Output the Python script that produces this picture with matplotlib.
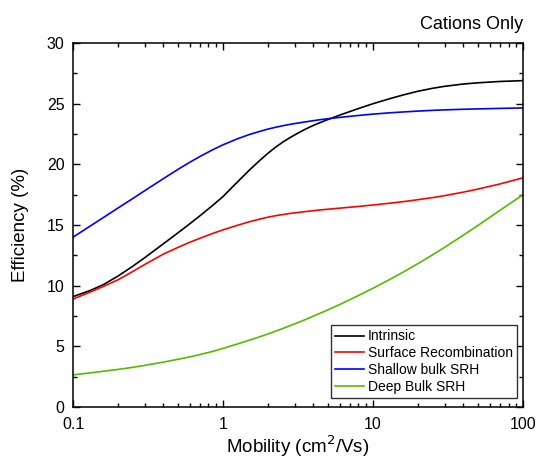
import numpy as np
import matplotlib.pyplot as plt
from matplotlib.ticker import MultipleLocator, LogLocator, FixedLocator, FixedFormatter

plt.rcParams['font.family'] = ['Liberation Sans', 'DejaVu Sans']

# mobility values (cm^2/Vs)
mobility = [0.1, 0.13, 0.16, 0.2, 0.25, 0.3, 0.4, 0.5, 0.6, 0.7, 0.85, 1, 1.25, 1.5, 1.75, 2,
            2.25, 2.5, 2.75, 3, 3.5, 4, 4.5, 5, 6, 8, 10, 13, 16, 20, 25, 30, 40, 50, 70, 100]

intrinsic = [9.1, 9.6, 10.1, 10.8, 11.6, 12.3, 13.45, 14.35, 15.1, 15.75, 16.6, 17.35, 18.56, 19.53,
             20.3, 20.93, 21.43, 21.83, 22.15, 22.42, 22.87, 23.21, 23.47, 23.69, 24.06, 24.6,
             25.0, 25.42, 25.73, 26.03, 26.27, 26.43, 26.62, 26.72, 26.83, 26.9]
surface = [8.9, 9.47, 9.95, 10.49, 11.17, 11.74, 12.6, 13.15, 13.58, 13.9, 14.3, 14.6, 14.98, 15.27,
           15.48, 15.65, 15.77, 15.86, 15.94, 16.0, 16.1, 16.18, 16.25, 16.3, 16.39, 16.53,
           16.65, 16.8, 16.93, 17.09, 17.26, 17.42, 17.71, 17.96, 18.38, 18.89]
shallow = [14.0, 14.91, 15.63, 16.41, 17.18, 17.82, 18.82, 19.58, 20.17, 20.64, 21.19, 21.61, 22.11,
           22.46, 22.71, 22.91, 23.06, 23.18, 23.28, 23.36, 23.49, 23.6, 23.69, 23.76, 23.87,
           24.03, 24.14, 24.25, 24.32, 24.39, 24.45, 24.49, 24.54, 24.57, 24.61, 24.65]
deep = [2.65, 2.81, 2.95, 3.1, 3.27, 3.43, 3.7, 3.93, 4.13, 4.32, 4.58, 4.83, 5.2, 5.51, 5.78, 6.03,
        6.26, 6.47, 6.67, 6.85, 7.18, 7.49, 7.76, 8.01, 8.45, 9.19, 9.79, 10.53, 11.14, 11.83,
        12.55, 13.16, 14.16, 14.96, 16.2, 17.5]

labels = ["Intrinsic", "Surface Recombination", "Shallow bulk SRH", "Deep Bulk SRH"]
colors = ["black", "#ff0000", "#0000ff", "#55bb00"]

x_ticks = [0.1, 1, 10, 100]
x_tick_labels = ["0.1", "1", "10", "100"]

fig = plt.figure(figsize=(5.37, 4.65), dpi=100)
ax = fig.add_axes([0.136, 0.1247, 0.838, 0.7828])

for series, lab, col in zip([intrinsic, surface, shallow, deep], labels, colors):
    ax.plot(mobility, series, color=col, lw=1.2, label=lab)

ax.set_xscale('log')
ax.set_xlim(0.1, 100)
ax.set_ylim(0, 30)
ax.xaxis.set_major_locator(FixedLocator(x_ticks))
ax.xaxis.set_major_formatter(FixedFormatter(x_tick_labels))
ax.xaxis.set_minor_locator(LogLocator(base=10, subs=np.arange(2, 10)))
ax.xaxis.set_minor_formatter(plt.NullFormatter())
ax.yaxis.set_major_locator(MultipleLocator(5))
ax.yaxis.set_minor_locator(MultipleLocator(2.5))

ax.tick_params(which='both', direction='in', top=True, right=True, labelsize=11.5)
ax.tick_params(which='major', length=5, width=1)
ax.tick_params(which='minor', length=3, width=1)
ax.tick_params(axis='x', pad=7)
ax.tick_params(axis='y', pad=6)
for sp in ax.spines.values():
    sp.set_linewidth(1.1)

ax.set_xlabel("Mobility (cm$^2$/Vs)", fontsize=13.5, labelpad=1)
ax.set_ylabel("Efficiency (%)", fontsize=13.5, labelpad=13)
ax.set_title("Cations Only", loc='right', fontsize=13, pad=10)

leg = ax.legend(loc='lower right', bbox_to_anchor=(0.987, 0.025), borderaxespad=0,
                fontsize=10, frameon=True, fancybox=False, edgecolor='black',
                handlelength=2.1, handletextpad=0.3, labelspacing=0.2, borderpad=0.3)
leg.get_frame().set_linewidth(1.0)

fig.savefig("out.png", dpi=100)
